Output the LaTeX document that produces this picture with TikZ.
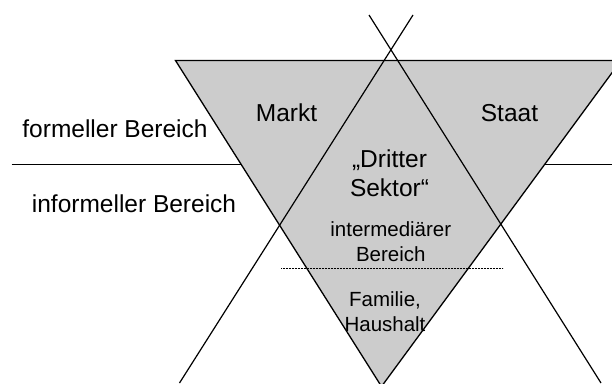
\documentclass[tikz,border=0pt]{standalone}
\usepackage{fontspec}
\setmainfont{Liberation Sans}
\usepackage{xcolor}
\definecolor{sektorgray}{RGB}{204,204,204}

\begin{document}
\begin{tikzpicture}[x=1pt,y=-1pt,every text node part/.style={align=center}]
\tikzstyle{every node}+=[inner sep=0pt]
\tikzstyle{bigtext}=[anchor=base,font=\fontsize{24.5}{29.5}\selectfont]
\tikzstyle{smalltext}=[anchor=base,font=\fontsize{20.5}{24.5}\selectfont]
\useasboundingbox (0,0) rectangle (612,383);
\clip (0,0) rectangle (612,383);
\coordinate (tl) at (175.5,60.5);
\coordinate (tr) at (621,60.5);
\coordinate (apex) at (381.5,386.5);
\draw [black,line width=1.3pt] (11.7,164.3) -- (612,164.3);
\fill [sektorgray] (tl) -- (tr) -- (apex) -- cycle;
\draw [black,line width=1.3pt,line join=miter] (tl) -- (tr) -- (apex) -- cycle;
\draw [black,line width=1.2pt] (413,15) -- (179.5,383);
\draw [black,line width=1.2pt] (369,15) -- (601,383);
\draw [black,line width=1.8pt,dash pattern=on 1.1pt off 0.4pt] (281,268.5) -- (503,268.5);
\node [bigtext] (formell) at (115,137) {formeller Bereich};
\node [bigtext] (informell) at (134,212) {informeller Bereich};
\node [bigtext] (markt) at (286.5,121.5) {Markt};
\node [bigtext] (staat) at (509.5,121.5) {Staat};
\node [bigtext] (sektor) at (389.5,196.5) {„Dritter\\Sektor“};
\node [smalltext] (intermed) at (390.8,261.3) {intermediärer\\Bereich};
\node [smalltext] (familie) at (385,331) {Familie,\\Haushalt};
\end{tikzpicture}
\end{document}
